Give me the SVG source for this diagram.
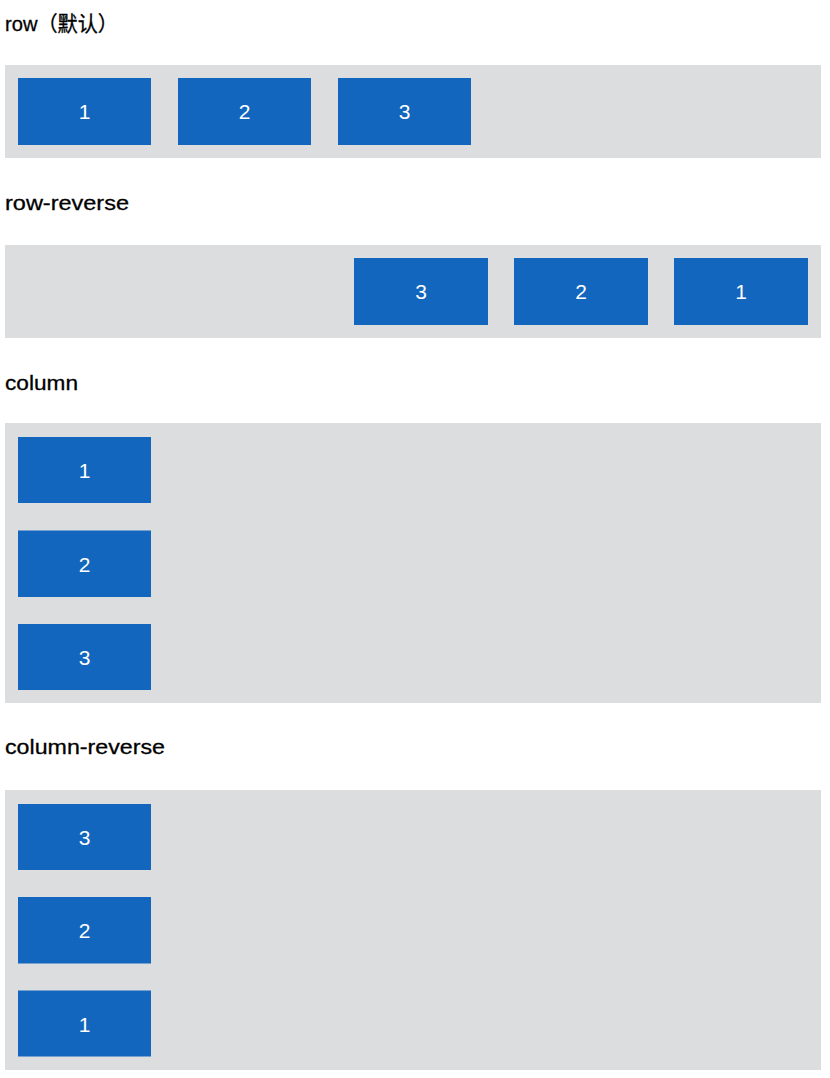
<svg xmlns="http://www.w3.org/2000/svg" width="830" height="1078" viewBox="0 0 830 1078">
<style>
.bg{fill:#ffffff}
.panel{fill:#dcdddf}
.box{fill:#1266bd}
.lbl{font-family:"Liberation Sans","Noto Sans CJK SC",sans-serif;font-size:21px;fill:#000000;stroke:#000000;stroke-width:0.3}
.num{font-family:"Liberation Sans",sans-serif;font-size:21px;fill:#ffffff;text-anchor:middle}
</style>
<rect class="bg" x="0" y="0" width="830" height="1078"/>
<g id="row">
<text class="lbl" x="5" y="31" textLength="113" lengthAdjust="spacingAndGlyphs">row（默认）</text>
<rect class="panel" x="5" y="65" width="816" height="93"/>
<g id="row-1"><rect class="box" x="18" y="78" width="133" height="67"/><text class="num" x="84.5" y="119">1</text></g>
<g id="row-2"><rect class="box" x="178" y="78" width="133" height="67"/><text class="num" x="244.5" y="119">2</text></g>
<g id="row-3"><rect class="box" x="338" y="78" width="133" height="67"/><text class="num" x="404.5" y="119">3</text></g>
</g>
<g id="row-reverse">
<text class="lbl" x="5" y="210" textLength="124" lengthAdjust="spacingAndGlyphs">row-reverse</text>
<rect class="panel" x="5" y="245" width="816" height="93"/>
<g id="rr-3"><rect class="box" x="354" y="258" width="134" height="67"/><text class="num" x="421" y="299">3</text></g>
<g id="rr-2"><rect class="box" x="514" y="258" width="134" height="67"/><text class="num" x="581" y="299">2</text></g>
<g id="rr-1"><rect class="box" x="674" y="258" width="134" height="67"/><text class="num" x="741" y="299">1</text></g>
</g>
<g id="column">
<text class="lbl" x="5" y="390" textLength="73" lengthAdjust="spacingAndGlyphs">column</text>
<rect class="panel" x="5" y="423" width="816" height="280"/>
<g id="col-1"><rect class="box" x="18" y="437" width="133" height="66"/><text class="num" x="84.5" y="478">1</text></g>
<g id="col-2"><rect class="box" x="18" y="530.5" width="133" height="66.5"/><text class="num" x="84.5" y="571.5">2</text></g>
<g id="col-3"><rect class="box" x="18" y="624" width="133" height="66"/><text class="num" x="84.5" y="665">3</text></g>
</g>
<g id="column-reverse">
<text class="lbl" x="5" y="754" textLength="160" lengthAdjust="spacingAndGlyphs">column-reverse</text>
<rect class="panel" x="5" y="790" width="816" height="280"/>
<g id="cr-3"><rect class="box" x="18" y="804" width="133" height="66"/><text class="num" x="84.5" y="845">3</text></g>
<g id="cr-2"><rect class="box" x="18" y="897" width="133" height="66.5"/><text class="num" x="84.5" y="938">2</text></g>
<g id="cr-1"><rect class="box" x="18" y="990.5" width="133" height="66"/><text class="num" x="84.5" y="1031.5">1</text></g>
</g>
</svg>
